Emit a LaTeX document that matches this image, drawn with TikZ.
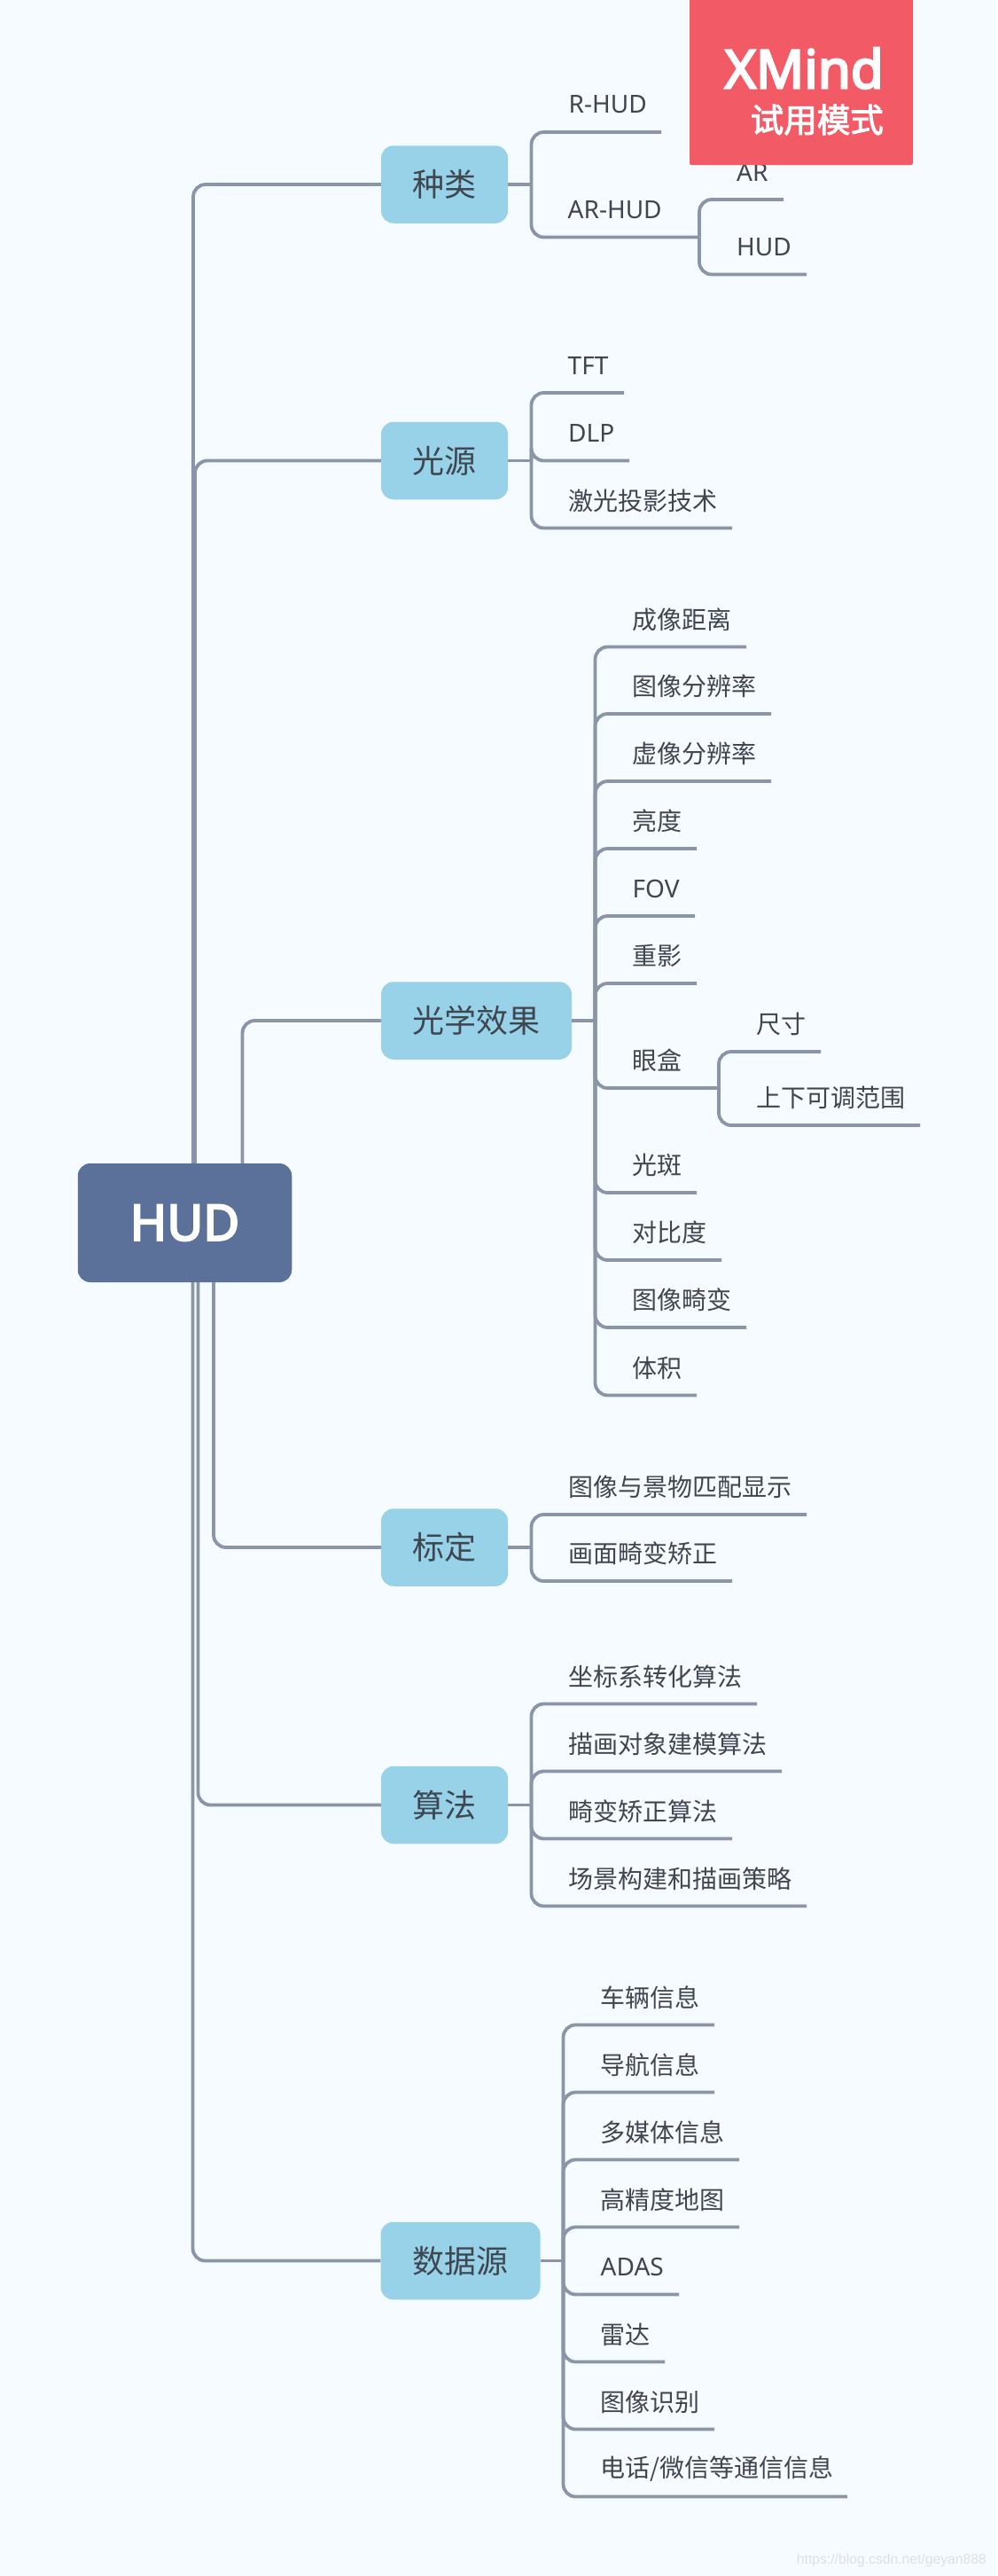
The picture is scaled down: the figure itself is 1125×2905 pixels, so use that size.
\documentclass[tikz,border=0pt]{standalone}
\usepackage{fontspec}
\setmainfont{Noto Sans}
\newfontfamily\cjk{Noto Sans CJK SC}
\newfontfamily\heavy[FakeBold=4]{Noto Sans}
\newfontfamily\heavycjk[FakeBold=2.5]{Noto Sans CJK SC}
\newfontfamily\wmfont{Liberation Sans}
\newcommand{\la}[1]{{\normalfont\raisebox{-0.5pt}{#1}}}
\definecolor{bgcol}{HTML}{F6FBFF}
\definecolor{rootcol}{HTML}{5B7199}
\definecolor{topiccol}{HTML}{98D2E8}
\definecolor{linecol}{HTML}{8A95AA}
\definecolor{textcol}{HTML}{3E4650}
\definecolor{markcol}{HTML}{F25B66}
\tikzset{
    conn/.style={draw=linecol, line width=3.8pt},
    elbow/.style={conn, rounded corners=14pt},
    topic/.style={fill=topiccol, rounded corners=14pt, inner sep=0pt, minimum height=87.5pt,
        text=textcol, font=\cjk\fontsize{36}{40}\selectfont},
    leaf/.style={anchor=west, inner sep=0pt, text=textcol, font=\cjk\fontsize{28}{32}\selectfont},
}
\begin{document}
\begin{tikzpicture}[x=1pt, y=-1pt]
    \useasboundingbox (0,0) rectangle (1125,2905);
    \fill[bgcol] (0,0) rectangle (1125,2905);

    % Root and main topics
    \node[fill=rootcol, rounded corners=14pt, minimum width=241.5pt, minimum height=134pt, inner sep=0pt,
        text=white, font=\heavy\fontsize{56}{60}\selectfont] (hud) at (208.5,1379) {HUD};
    \node[topic, minimum width=143pt] (zl) at (501.5,208) {种类};
    \node[topic, minimum width=143pt] (gy) at (501.5,519.5) {光源};
    \node[topic, minimum width=215pt] (gx) at (537.5,1151) {光学效果};
    \node[topic, minimum width=143pt] (bd) at (501.5,1745) {标定};
    \node[topic, minimum width=143pt] (sf) at (501.5,2035.5) {算法};
    \node[topic, minimum width=180pt] (sj) at (519.5,2549.5) {数据源};

    % Root to topics
    \foreach \n/\x/\ya in {zl/218/hud.north, gy/220/hud.north, gx/273.5/hud.north,
        bd/241/hud.south, sf/223.5/hud.south, sj/217.5/hud.south} {
        \coordinate (r-\n) at (\ya -| \x,0);
        \draw[elbow] (r-\n) |- (\n.west);
    }

    % Branch points next to the topics
    \coordinate (t-zl) at (zl.east -| 599.5,0);
    \coordinate (t-gy) at (gy.east -| 599.5,0);
    \coordinate (t-gx) at (gx.east -| 671.5,0);
    \coordinate (t-bd) at (bd.east -| 599.5,0);
    \coordinate (t-sf) at (sf.east -| 599.5,0);
    \coordinate (t-sj) at (sj.east -| 635.5,0);
    \foreach \n in {zl, gy, gx, bd, sf, sj} {
        \draw[conn] (\n.east) -- (t-\n);
    }

    % Leaves: name/parent/text x/underline y/underline end/text
    \foreach \n/\p/\x/\y/\e/\lab in {
        rhud/zl/641.5/149/746/\la{R-HUD},
        arhud/zl/640.5/267.5/789/\la{AR-HUD},
        tft/gy/640.5/443/704/\la{TFT},
        dlp/gy/641/519.5/710/\la{DLP},
        jg/gy/641/595.5/826/激光投影技术,
        cx/gx/713.5/729.5/842/成像距离,
        tx/gx/713.5/805/870/图像分辨率,
        xx/gx/713.5/881/870/虚像分辨率,
        ld/gx/713.5/957/786/亮度,
        fov/gx/713.5/1033/784/\la{FOV},
        cy/gx/713.5/1109/786/重影,
        yh/gx/713.5/1227/811/眼盒,
        gb/gx/713.5/1345/786/光斑,
        db/gx/713.5/1421/814/对比度,
        jb/gx/713.5/1497/842/图像畸变,
        tj/gx/713.5/1573.5/786/体积,
        pp/bd/641.5/1708/910/图像与景物匹配显示,
        jz/bd/641.5/1783/826/画面畸变矫正,
        zb/sf/641.5/1921.5/854/坐标系转化算法,
        dx/sf/641.5/1997.5/882/描画对象建模算法,
        jx/sf/641.5/2073.5/826/畸变矫正算法,
        cj/sf/641.5/2149.5/910/场景构建和描画策略,
        cl/sj/677.5/2283.5/806/车辆信息,
        dh/sj/677.5/2359.5/806/导航信息,
        dm/sj/677.5/2435.5/834/多媒体信息,
        gj/sj/677.5/2511.5/834/高精度地图,
        ad/sj/677.5/2587.5/766/\la{ADAS},
        ld2/sj/677.5/2663.5/750/雷达,
        sb/sj/677.5/2739.5/806/图像识别,
        dh2/sj/677.5/2815.5/956/{电话/微信等通信信息}} {
        \node[leaf] (\n) at (\x,\y-31) {\lab};
        \coordinate (\n-e) at (\e,\y);
        \draw[elbow] (t-\p) |- (\n-e);
    }

    % Second level
    \foreach \n/\p/\x/\y/\e/\lab in {
        ar/arhud/831/225/884/\la{AR},
        hudb/arhud/831/309.5/910/\la{HUD},
        cc/yh/853/1186/926/尺寸,
        sx/yh/853/1269/1038/上下可调范围} {
        \node[leaf] (\n) at (\x,\y-31) {\lab};
        \coordinate (\n-e) at (\e,\y);
        \draw[elbow] (\p-e) |- (\n-e);
    }

    % Trial mark
    \fill[markcol, rounded corners=2pt] (778,-5) rectangle (1030,186);
    \node[text=white, anchor=east, inner sep=0pt, font=\heavy\fontsize{60}{62}\selectfont] (xm) at (997,77) {XMind};
    \node[text=white, anchor=east, inner sep=0pt, font=\heavycjk\fontsize{37.5}{40}\selectfont] (sy) at (997,135) {试用模式};

    % Blog address
    \node[text=black!12, anchor=east, inner sep=0pt, font=\wmfont\fontsize{15.7}{18}\selectfont] (url) at (1113,2887) {https://blog.csdn.net/geyan888};
\end{tikzpicture}
\end{document}
